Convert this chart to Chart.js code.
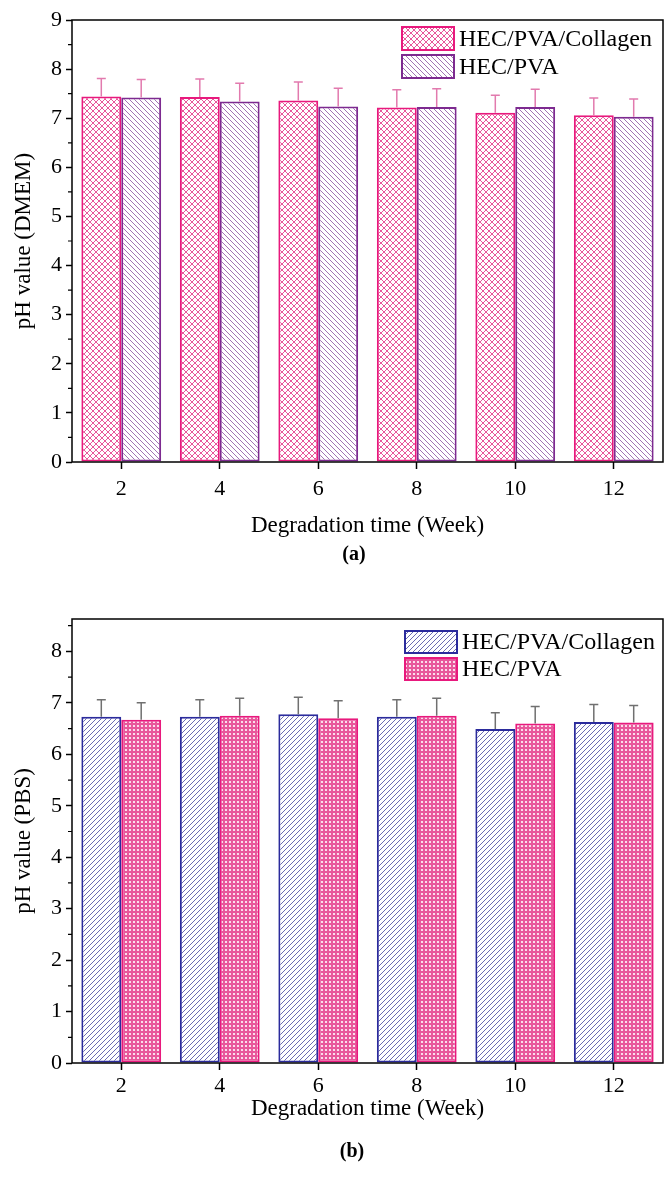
<!DOCTYPE html>
<html>
<head>
<meta charset="utf-8">
<script src="https://cdn.jsdelivr.net/npm/chart.js@4.4.1/dist/chart.umd.min.js"></script>
<style>
  html, body { margin: 0; padding: 0; background: #fff; }
  body { width: 665px; height: 1191px; position: relative; overflow: hidden; font-family: 'Liberation Serif', serif; }
  .wrap { position: absolute; left: 0; width: 665px; }
  #wrap-a { top: 0; height: 545px; }
  #wrap-b { top: 600px; height: 540px; }
  .cap { position: absolute; transform: translateX(-50%); font-weight: bold; font-size: 20px; line-height: 20px; color: #000; }
</style>
</head>
<body>
<div class="wrap" id="wrap-a"><canvas id="chart-a"></canvas></div>
<div class="cap" style="left:354px; top:543px;">(a)</div>
<div class="wrap" id="wrap-b"><canvas id="chart-b"></canvas></div>
<div class="cap" style="left:352px; top:1140px;">(b)</div>
<script>
const weeks = ['2', '4', '6', '8', '10', '12'];

// (a) DMEM
const dmemCollagen = [7.44, 7.43, 7.36, 7.22, 7.11, 7.06];
const dmemCollagenErr = [0.37, 0.37, 0.38, 0.36, 0.36, 0.35];
const dmemPva = [7.42, 7.34, 7.24, 7.23, 7.23, 7.03];
const dmemPvaErr = [0.37, 0.37, 0.37, 0.37, 0.36, 0.36];
const dmemTicks = [0, 1, 2, 3, 4, 5, 6, 7, 8, 9];

// (b) PBS
const pbsCollagen = [6.73, 6.73, 6.78, 6.73, 6.49, 6.63];
const pbsCollagenErr = [0.33, 0.33, 0.33, 0.33, 0.32, 0.34];
const pbsPva = [6.67, 6.75, 6.70, 6.75, 6.60, 6.62];
const pbsPvaErr = [0.33, 0.34, 0.34, 0.34, 0.33, 0.33];
const pbsTicks = [0, 1, 2, 3, 4, 5, 6, 7, 8];

const FONT = "'Liberation Serif', 'Times New Roman', serif";

function makePattern(kind, color) {
  const c = document.createElement('canvas');
  const s = kind === 'dots' ? 4 : (kind === 'cross' ? 6 : 5);
  c.width = s;
  c.height = s;
  const g = c.getContext('2d');
  g.fillStyle = '#ffffff';
  g.fillRect(0, 0, s, s);
  g.strokeStyle = color;
  g.lineWidth = 1;
  if (kind === 'dots') {
    g.fillStyle = color;
    g.fillRect(0, 0, s, s);
    g.fillStyle = '#ffffff';
    g.beginPath();
    g.arc(s / 2, s / 2, 1.1, 0, Math.PI * 2);
    g.fill();
  } else {
    g.beginPath();
    [-s, 0, s].forEach((o) => {
      if (kind === 'back' || kind === 'cross') {
        g.moveTo(o, 0);
        g.lineTo(o + s, s);
      }
      if (kind === 'fwd' || kind === 'cross') {
        g.moveTo(o, s);
        g.lineTo(o + s, 0);
      }
    });
    g.stroke();
  }
  return g.createPattern(c, 'repeat');
}

const errorBarPlugin = {
  id: 'errorBars',
  afterDatasetsDraw(chart, args, opts) {
    const {ctx} = chart;
    const yScale = chart.scales.y;
    ctx.save();
    ctx.strokeStyle = opts.color;
    ctx.lineWidth = 1.5;
    chart.data.datasets.forEach((ds, di) => {
      const meta = chart.getDatasetMeta(di);
      meta.data.forEach((bar, i) => {
        const top = yScale.getPixelForValue(ds.data[i] + ds.errors[i]);
        ctx.beginPath();
        ctx.moveTo(bar.x, bar.y);
        ctx.lineTo(bar.x, top);
        ctx.moveTo(bar.x - 4.5, top);
        ctx.lineTo(bar.x + 4.5, top);
        ctx.stroke();
      });
    });
    ctx.restore();
  }
};

const framePlugin = {
  id: 'frame',
  afterDraw(chart) {
    const {ctx, chartArea} = chart;
    const yScale = chart.scales.y;
    ctx.save();
    ctx.strokeStyle = '#000';
    ctx.lineWidth = 1.5;
    ctx.strokeRect(chartArea.left, chartArea.top, chartArea.right - chartArea.left, chartArea.bottom - chartArea.top);
    // minor ticks on the y axis
    ctx.lineWidth = 1.2;
    ctx.beginPath();
    for (let v = 0.5; v < yScale.max; v += 1) {
      const y = yScale.getPixelForValue(v);
      ctx.moveTo(chartArea.left - 4, y);
      ctx.lineTo(chartArea.left, y);
    }
    ctx.stroke();
    ctx.restore();
  }
};

const boxLegendPlugin = {
  id: 'boxLegend',
  afterDraw(chart, args, opts) {
    const {ctx} = chart;
    ctx.save();
    ctx.font = `24px ${FONT}`;
    ctx.textBaseline = 'middle';
    ctx.textAlign = 'left';
    chart.data.datasets.forEach((ds, i) => {
      const y = opts.y + i * opts.gap;
      ctx.fillStyle = ds.backgroundColor;
      ctx.fillRect(opts.x, y, opts.w, opts.h);
      ctx.strokeStyle = ds.borderColor;
      ctx.lineWidth = 2;
      ctx.strokeRect(opts.x, y, opts.w, opts.h);
      ctx.fillStyle = '#000';
      ctx.fillText(ds.label, opts.x + opts.w + 5, y + opts.h / 2 + 1);
    });
    ctx.restore();
  }
};

function buildChart(canvasId, cfg) {
  const tickFont = {family: FONT, size: 22};
  const titleFont = {family: FONT, size: 23};
  return new Chart(document.getElementById(canvasId), {
    type: 'bar',
    data: {
      labels: weeks,
      datasets: cfg.datasets
    },
    options: {
      responsive: true,
      maintainAspectRatio: false,
      animation: false,
      layout: {padding: {top: cfg.padTop, right: 2, left: 0, bottom: 0}},
      datasets: {
        bar: {categoryPercentage: 0.81, barPercentage: 1, borderWidth: 2, borderSkipped: false}
      },
      scales: {
        x: {
          offset: true,
          grid: {display: true, drawOnChartArea: false, offset: false, tickLength: 7, tickWidth: 1.5, tickColor: '#000'},
          border: {display: false},
          ticks: {color: '#000', font: tickFont, padding: cfg.xTickPad, maxRotation: 0},
          title: {display: true, text: 'Degradation time (Week)', color: '#000', font: titleFont, padding: {top: 0, bottom: cfg.xTitlePad}},
          afterFit(scale) {
            scale.height = cfg.xHeight;
          }
        },
        y: {
          min: 0,
          max: cfg.yMax,
          grid: {display: true, drawOnChartArea: false, tickLength: 6, tickWidth: 1.5, tickColor: '#000'},
          border: {display: false},
          ticks: {color: '#000', font: tickFont, padding: 4},
          title: {display: true, text: cfg.yTitle, color: '#000', font: titleFont, padding: {top: 10, bottom: 0}},
          afterBuildTicks(scale) {
            scale.ticks = cfg.yTicks.map((v) => ({value: v}));
          },
          afterFit(scale) {
            scale.width = 72;
          }
        }
      },
      plugins: {
        legend: {display: false},
        tooltip: {enabled: false},
        errorBars: {color: cfg.errColor},
        boxLegend: cfg.legend
      }
    },
    plugins: [errorBarPlugin, framePlugin, boxLegendPlugin]
  });
}

const pinkBorder = '#e8197d';
const pinkHatch = '#e8579b';

buildChart('chart-a', {
  padTop: 20,
  xHeight: 83,
  xTickPad: 7,
  xTitlePad: 5,
  yMax: 9,
  yTicks: dmemTicks,
  yTitle: 'pH value (DMEM)',
  errColor: '#e27aae',
  legend: {x: 402, y: 27, w: 52, h: 23, gap: 28},
  datasets: [
    {label: 'HEC/PVA/Collagen', data: dmemCollagen, errors: dmemCollagenErr,
      backgroundColor: makePattern('cross', pinkHatch), borderColor: pinkBorder},
    {label: 'HEC/PVA', data: dmemPva, errors: dmemPvaErr,
      backgroundColor: makePattern('back', '#a274b4'), borderColor: '#7d2a90'}
  ]
});

buildChart('chart-b', {
  padTop: 19,
  xHeight: 77,
  xTickPad: 3,
  xTitlePad: 17,
  yMax: 8.63,
  yTicks: pbsTicks,
  yTitle: 'pH value (PBS)',
  errColor: '#707070',
  legend: {x: 405, y: 31, w: 52, h: 22, gap: 27},
  datasets: [
    {label: 'HEC/PVA/Collagen', data: pbsCollagen, errors: pbsCollagenErr,
      backgroundColor: makePattern('fwd', '#6b6bb3'), borderColor: '#2b2b9c'},
    {label: 'HEC/PVA', data: pbsPva, errors: pbsPvaErr,
      backgroundColor: makePattern('dots', pinkHatch), borderColor: pinkBorder}
  ]
});
</script>
</body>
</html>
